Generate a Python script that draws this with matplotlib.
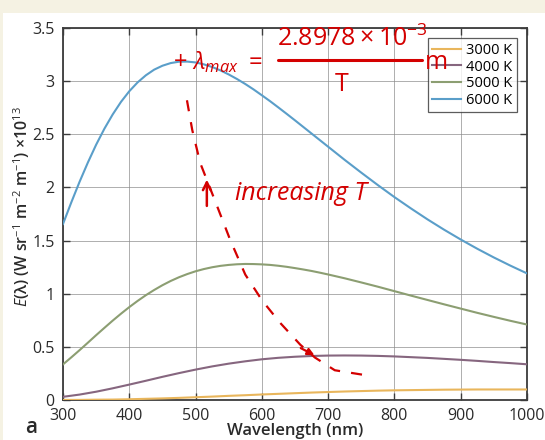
import matplotlib
matplotlib.use("Agg")
import matplotlib.pyplot as plt
from matplotlib.patches import Rectangle

plt.rcParams["font.family"] = ["Open Sans", "DejaVu Sans"]
plt.rcParams["mathtext.fontset"] = "custom"
plt.rcParams["mathtext.rm"] = "Open Sans"
plt.rcParams["mathtext.it"] = "Open Sans:italic"
plt.rcParams["mathtext.bf"] = "Open Sans:bold"

# Spectral radiance E(lambda) in units of 1e13 W sr^-1 m^-2 m^-1
wavelength_nm = [300, 325, 350, 375, 400, 425, 450, 475, 500, 525, 550, 575,
                 600, 625, 650, 675, 700, 725, 750, 775, 800, 825, 850, 875,
                 900, 925, 950, 975, 1000]
# finer sampling for the two hottest curves, where they bend most
wavelength_fine_nm = [300, 312.5, 325, 337.5, 350, 362.5, 375, 387.5, 400, 412.5,
                      425, 437.5, 450, 462.5, 475, 487.5, 500, 512.5, 525, 537.5,
                      550, 562.5, 575, 587.5, 600, 612.5, 625, 637.5, 650, 662.5,
                      675, 687.5, 700, 725, 750, 775, 800, 825, 850, 875, 900,
                      925, 950, 975, 1000]

e_3000 = [0.001, 0.001, 0.003, 0.004, 0.007, 0.011, 0.015, 0.020, 0.026, 0.032,
          0.039, 0.045, 0.052, 0.058, 0.064, 0.070, 0.075, 0.080, 0.084, 0.088,
          0.091, 0.093, 0.095, 0.097, 0.098, 0.099, 0.099, 0.099, 0.099]
e_4000 = [0.030, 0.051, 0.078, 0.110, 0.145, 0.181, 0.218, 0.253, 0.286, 0.316,
          0.342, 0.364, 0.383, 0.397, 0.407, 0.414, 0.418, 0.419, 0.418, 0.415,
          0.410, 0.403, 0.396, 0.387, 0.378, 0.368, 0.357, 0.347, 0.336]
e_5000 = [0.335, 0.401, 0.469, 0.539, 0.610, 0.679, 0.747, 0.812, 0.874, 0.932,
          0.986, 1.035, 1.080, 1.120, 1.155, 1.185, 1.211, 1.232, 1.249, 1.262,
          1.271, 1.277, 1.280, 1.279, 1.276, 1.271, 1.263, 1.253, 1.241, 1.228,
          1.214, 1.198, 1.181, 1.145, 1.106, 1.066, 1.024, 0.982, 0.941, 0.900,
          0.860, 0.820, 0.782, 0.745, 0.710]
e_6000 = [1.656, 1.859, 2.053, 2.234, 2.402, 2.553, 2.687, 2.805, 2.905, 2.988,
          3.055, 3.108, 3.145, 3.170, 3.183, 3.184, 3.176, 3.158, 3.133, 3.101,
          3.063, 3.020, 2.973, 2.922, 2.867, 2.811, 2.752, 2.692, 2.631, 2.569,
          2.507, 2.445, 2.383, 2.259, 2.139, 2.022, 1.909, 1.802, 1.699, 1.602,
          1.510, 1.423, 1.341, 1.264, 1.191]

series_labels = ["3000 K", "4000 K", "5000 K", "6000 K"]
series_colors = ["#e9b65c", "#86667f", "#8c9e72", "#5a9ec9"]

x_ticks = [300, 400, 500, 600, 700, 800, 900, 1000]
y_ticks = [0, 0.5, 1, 1.5, 2, 2.5, 3, 3.5]
y_tick_labels = ["0", "0.5", "1", "1.5", "2", "2.5", "3", "3.5"]

# hand-drawn peak trace (wavelength, radiance) and its pen colour
trace_x = [487, 495, 507, 529, 552, 575, 600, 627, 658, 680, 710, 755]
trace_y = [2.82, 2.54, 2.23, 1.88, 1.51, 1.18, 0.94, 0.73, 0.52, 0.40, 0.28, 0.235]
pen = "#d40000"

fig = plt.figure(figsize=(5.45, 4.4), dpi=100)
fig.patch.set_facecolor("white")
# page border strips
fig.patches.append(Rectangle((0, 1 - 13 / 440), 1, 13 / 440, transform=fig.transFigure,
                             facecolor="#f5f2e3", edgecolor="none", zorder=0))
fig.patches.append(Rectangle((0, 0), 3 / 545, 1, transform=fig.transFigure,
                             facecolor="#f5f2e3", edgecolor="none", zorder=0))

ax = fig.add_axes([63 / 545, 1 - 400 / 440, 464 / 545, 372 / 440])

xs = [wavelength_nm, wavelength_nm, wavelength_fine_nm, wavelength_fine_nm]
for x, ys, lab, col in zip(xs, [e_3000, e_4000, e_5000, e_6000], series_labels, series_colors):
    ax.plot(x, ys, color=col, lw=1.5, label=lab, zorder=3, solid_joinstyle="round")

ax.set_xlim(300, 1000)
ax.set_ylim(0, 3.5)
ax.set_xticks(x_ticks)
ax.set_yticks(y_ticks)
ax.set_yticklabels(y_tick_labels)
ax.grid(True, color="#8a8a8a", lw=0.6, alpha=0.8)
ax.set_axisbelow(True)
for sp in ax.spines.values():
    sp.set_color("#3c3c3c")
    sp.set_linewidth(1.3)
ax.tick_params(direction="in", length=5, width=1.0, color="#3c3c3c",
               top=True, right=True, labelsize=11.5, labelcolor="#2a2a2a", pad=6)

ax.set_xlabel("Wavelength (nm)", fontsize=12, fontweight="semibold", color="#2a2a2a")
ax.xaxis.set_label_coords(0.5, -0.062)
ax.set_ylabel(r"$E$(λ) (W sr$^{-1}$ m$^{-2}$ m$^{-1}$) ×10$^{13}$", fontsize=11.5,
              fontweight="semibold", color="#2a2a2a")
ax.yaxis.set_label_coords(-0.067, 0.52)

leg = ax.legend(loc="upper right", bbox_to_anchor=(0.978, 0.972), borderaxespad=0,
                fontsize=10.5, frameon=True, fancybox=False, handlelength=2.0,
                labelspacing=0.12, borderpad=0.3, handletextpad=0.35)
leg.get_frame().set_edgecolor("#333333")
leg.get_frame().set_linewidth(0.9)
leg.set_zorder(5)

fig.text(25 / 545, 1 - 427 / 440, "a", fontsize=15, fontweight="semibold",
         color="#2a2a2a", va="center", ha="left")

# handwritten annotations
ax.plot(trace_x, trace_y, color=pen, lw=1.6, ls=(0, (5, 5)), zorder=6)
ax.annotate("", xy=(683, 0.41), xytext=(655, 0.50),
            arrowprops=dict(arrowstyle="-|>", color=pen, lw=1.6), zorder=6)
ax.annotate("", xy=(517, 2.10), xytext=(517, 1.80),
            arrowprops=dict(arrowstyle="->", color=pen, lw=1.8, mutation_scale=14), zorder=6)
ax.text(559, 1.94, "increasing T", color=pen, fontsize=18, fontstyle="italic",
        va="center", ha="left", zorder=6)
ax.text(466, 3.18, r"$+\ \lambda_{max}\ =$", color=pen, fontsize=17, va="center",
        ha="left", zorder=6)
ax.text(736, 3.40, r"$2.8978\times10^{-3}$", color=pen, fontsize=18, va="center",
        ha="center", zorder=6)
ax.plot([624, 842], [3.20, 3.20], color=pen, lw=2.2, solid_capstyle="round", zorder=6)
ax.text(721, 2.97, "T", color=pen, fontsize=18, va="center", ha="center", zorder=6)
ax.text(864, 3.18, "m", color=pen, fontsize=18, va="center", ha="center", zorder=6)

fig.savefig("out.png", dpi=100)
